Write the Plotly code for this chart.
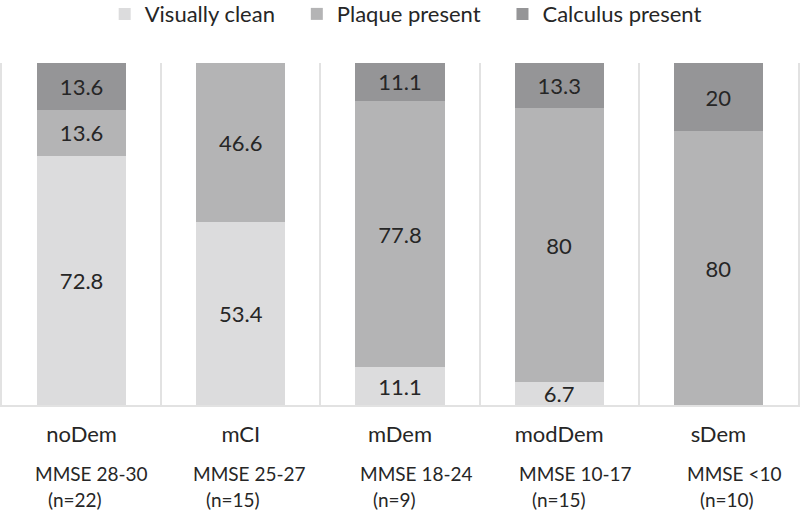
import plotly.graph_objects as go

categories = ["noDem", "mCI", "mDem", "modDem", "sDem"]
mmse_labels = ["MMSE 28-30", "MMSE 25-27", "MMSE 18-24", "MMSE 10-17", "MMSE <10"]
n_labels = ["(n=22)", "(n=15)", "(n=9)", "(n=15)", "(n=10)"]

visually_clean = [72.8, 53.4, 11.1, 6.7, 0]
plaque_present = [13.6, 46.6, 77.8, 80, 80]
calculus_present = [13.6, 0, 11.1, 13.3, 20]

PAD = "\u00a0\u00a0\u00a0"  # legend spacing only
series = [
    ("Visually clean" + PAD, visually_clean, "#dcdcdd"),
    ("Plaque present" + PAD, plaque_present, "#b4b4b5"),
    ("Calculus present", calculus_present, "#959597"),
]

# horizontal pixel offsets (style only) for the sub-labels, relative to category centre
mmse_shift = [-49, -50, -42, -42, -33]
n_indent = 13

FONT = "Lato"
TXT = "#262626"

fig = go.Figure()
for name, vals, color in series:
    fig.add_trace(go.Bar(
        name=name,
        x=categories,
        y=vals,
        marker=dict(color=color, line=dict(width=0)),
        text=[f"{v:g}" if v else "" for v in vals],
        textposition="inside",
        insidetextanchor="middle",
        textfont=dict(family=FONT, size=22, color=TXT),
        hoverinfo="skip",
    ))

annotations = []
for i, cat in enumerate(categories):
    annotations.append(dict(
        x=cat, xref="x", y=0, yref="paper", text=mmse_labels[i],
        showarrow=False, xanchor="left", yanchor="middle",
        xshift=mmse_shift[i], yshift=-68,
        font=dict(family=FONT, size=19, color=TXT),
    ))
    annotations.append(dict(
        x=cat, xref="x", y=0, yref="paper", text=n_labels[i],
        showarrow=False, xanchor="left", yanchor="middle",
        xshift=mmse_shift[i] + n_indent, yshift=-94,
        font=dict(family=FONT, size=19, color=TXT),
    ))

fig.update_layout(
    width=800, height=512,
    margin=dict(l=2, r=2, t=63, b=107, autoexpand=False),
    barmode="stack",
    bargap=0.44,
    plot_bgcolor="white",
    paper_bgcolor="white",
    font=dict(family=FONT, color=TXT),
    uniformtext=dict(minsize=22, mode="show"),
    showlegend=True,
    legend=dict(
        orientation="h", x=0.129, xanchor="left",
        y=1.143, yref="paper", yanchor="middle",
        font=dict(family=FONT, size=22, color=TXT),
        traceorder="normal",
        bgcolor="rgba(0,0,0,0)",
    ),
    xaxis=dict(
        type="category",
        tickson="boundaries",
        showgrid=True, gridcolor="#e2e2e2", gridwidth=2,
        showline=True, linecolor="#e2e2e2", linewidth=2,
        ticks="", ticklabelstandoff=9,
        tickfont=dict(family=FONT, size=22, color=TXT),
        range=[-0.5, 4.5],
    ),
    yaxis=dict(
        range=[0, 100], showgrid=False, zeroline=False,
        showticklabels=False, ticks="",
        showline=True, mirror=True, linecolor="#e2e2e2", linewidth=2,
    ),
    annotations=annotations,
)

fig.write_html("out.html", config={"displayModeBar": False},
               post_script="document.body.style.margin='0px';")
